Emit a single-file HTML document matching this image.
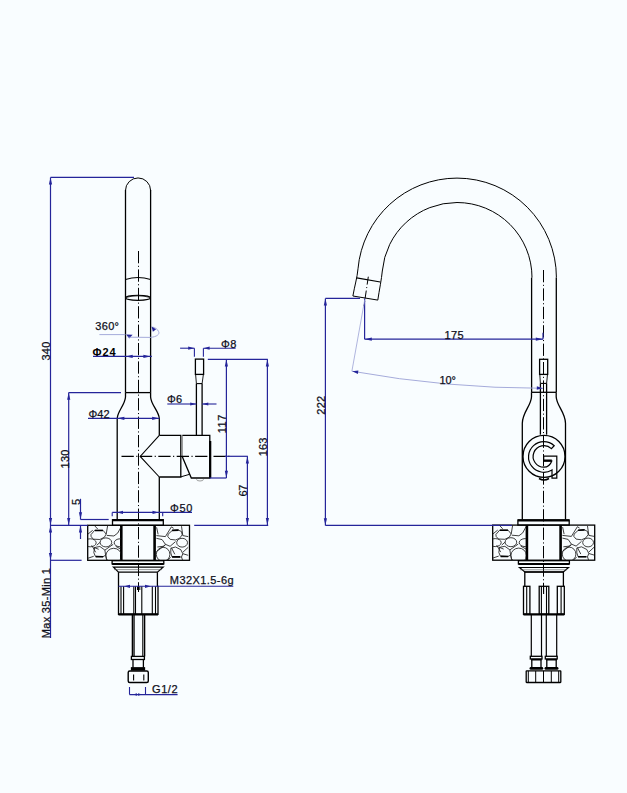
<!DOCTYPE html>
<html><head><meta charset="utf-8"><style>
html,body{margin:0;padding:0;background:#f9fdff;}
svg{display:block;}
text{font-family:"Liberation Sans",sans-serif;}
</style></head><body>
<svg width="627" height="793" viewBox="0 0 627 793">
<rect x="0" y="0" width="627" height="793" fill="#f9fdff"/>
<line x1="125.5" y1="189.9" x2="125.5" y2="392.6" stroke="#000" stroke-width="1.3" />
<line x1="150.6" y1="189.9" x2="150.6" y2="392.6" stroke="#000" stroke-width="1.3" />
<path d="M125.5,190.5 A12.55,12.55 0 0 1 150.6,190.5" stroke="#000" stroke-width="1.0" fill="none" />
<path d="M125.5,279.6 Q138,275.4 150.6,279.6" stroke="#000" stroke-width="1.1" fill="none" />
<ellipse cx="138" cy="297.8" rx="12.4" ry="2.6" stroke="#000" stroke-width="1.1" fill="none"/>
<path d="M126,297.4 Q138,294.2 150,297.4" stroke="#000" stroke-width="0.8" fill="none" />
<line x1="125.5" y1="392.6" x2="150.6" y2="392.6" stroke="#000" stroke-width="1.3" />
<path d="M125.5,392.6 L125.5,397 C125,405 117.5,411 117.2,418.5 L117.2,519.7" stroke="#000" stroke-width="1.3" fill="none" />
<path d="M150.6,392.6 L150.6,397 C151,405 158.8,411 159.3,418.5 L159.3,435.3" stroke="#000" stroke-width="1.3" fill="none" />
<line x1="159.3" y1="477" x2="159.3" y2="519.7" stroke="#000" stroke-width="1.3" />
<path d="M159.3,435.3 L180.8,435.3 L180.8,477 L159.3,477" stroke="#000" stroke-width="1.3" fill="none" />
<path d="M159.3,435.3 L140.2,456.4 L159.3,477" stroke="#000" stroke-width="1.1" fill="none" />
<path d="M182.3,435.3 L209.8,435.3 L209.8,478 L191.3,478 L182,456" stroke="#000" stroke-width="1.3" fill="none" />
<line x1="182.3" y1="436" x2="182.3" y2="456" stroke="#777" stroke-width="0.9" />
<line x1="181" y1="476.8" x2="189.6" y2="474.3" stroke="#000" stroke-width="1.0" />
<line x1="210.2" y1="441" x2="210.2" y2="478" stroke="#000" stroke-width="2.2" />
<path d="M196.5,479.2 A3.5,1.8 0 0 0 203.5,479.2" stroke="#888" stroke-width="0.8" fill="none" />
<rect x="195.4" y="359.1" width="8.20" height="15.30" stroke="#000" stroke-width="1.3" fill="none"/>
<path d="M195.6,374.4 L196.4,383.6 M203.4,374.4 L202.1,383.6" stroke="#000" stroke-width="0.9" fill="none" />
<line x1="196.4" y1="383.6" x2="202.1" y2="383.6" stroke="#000" stroke-width="1.1" />
<line x1="196.4" y1="383.6" x2="196.4" y2="435.3" stroke="#000" stroke-width="1.3" />
<line x1="202.1" y1="383.6" x2="202.1" y2="435.3" stroke="#000" stroke-width="1.3" />
<line x1="121.5" y1="456.4" x2="232" y2="456.4" stroke="#000" stroke-width="1.1" stroke-dasharray="12.3 2.5 1.1 2.5"/>
<line x1="138.5" y1="251" x2="138.5" y2="592" stroke="#000" stroke-width="1.0" stroke-dasharray="12.3 2.5 1.1 2.5"/>
<rect x="112.5" y="519.7" width="50.80" height="5.60" stroke="#000" stroke-width="1.3" fill="none"/>
<line x1="112.5" y1="520.1" x2="163.3" y2="520.1" stroke="#000" stroke-width="2.2" />
<rect x="87.7" y="525.3" width="101.80" height="35.00" stroke="#000" stroke-width="1.3" fill="none"/>
<line x1="121.3" y1="525.3" x2="121.3" y2="560.3" stroke="#000" stroke-width="2.6" />
<line x1="154.6" y1="525.3" x2="154.6" y2="560.3" stroke="#000" stroke-width="2.6" />
<rect x="112.1" y="560.7" width="51.70" height="3.20" stroke="#000" stroke-width="1.3" fill="none"/>
<line x1="112.1" y1="564" x2="163.8" y2="564" stroke="#000" stroke-width="2" />
<path d="M113.4,567.1 L163.2,567.1 L157.4,572.2 L118.5,572.2 Z" stroke="#000" stroke-width="1.2" fill="none" />
<line x1="114" y1="569.6" x2="162" y2="569.6" stroke="#555" stroke-width="0.6" />
<path d="M118.5,572.2 L118.5,614.3 L158,614.3 L158,586.3 L157.4,586.3 L157.4,572.2" stroke="#000" stroke-width="1.3" fill="none" />
<line x1="118.5" y1="614.3" x2="158" y2="614.3" stroke="#000" stroke-width="2.2" />
<line x1="121" y1="586.3" x2="121" y2="614.3" stroke="#000" stroke-width="1.1" />
<line x1="123.6" y1="586.3" x2="123.6" y2="614.3" stroke="#000" stroke-width="1.1" />
<line x1="133.8" y1="586.3" x2="133.8" y2="614.3" stroke="#000" stroke-width="1.1" />
<line x1="135.5" y1="586.3" x2="135.5" y2="614.3" stroke="#000" stroke-width="1.1" />
<line x1="141.8" y1="586.3" x2="141.8" y2="614.3" stroke="#000" stroke-width="1.1" />
<line x1="152.3" y1="586.3" x2="152.3" y2="614.3" stroke="#000" stroke-width="1.1" />
<line x1="155.5" y1="586.3" x2="155.5" y2="614.3" stroke="#000" stroke-width="1.1" />
<line x1="137.5" y1="586.3" x2="137.5" y2="590" stroke="#000" stroke-width="1" />
<line x1="139.8" y1="586.3" x2="139.8" y2="590" stroke="#000" stroke-width="1" />
<line x1="132.6" y1="614.3" x2="132.6" y2="656.4" stroke="#000" stroke-width="1.8" />
<line x1="134.2" y1="614.3" x2="134.2" y2="656.4" stroke="#000" stroke-width="1.0" />
<line x1="142.8" y1="614.3" x2="142.8" y2="656.4" stroke="#000" stroke-width="1.1" />
<line x1="144.6" y1="614.3" x2="144.6" y2="656.4" stroke="#000" stroke-width="1.4" />
<rect x="131.4" y="656.4" width="13.00" height="3.10" stroke="#000" stroke-width="1.3" fill="none"/>
<line x1="133" y1="659.5" x2="133" y2="667.8" stroke="#000" stroke-width="1.3" />
<line x1="143.4" y1="659.5" x2="143.4" y2="667.8" stroke="#000" stroke-width="1.3" />
<rect x="131.5" y="667.8" width="13.00" height="2.20" stroke="#000" stroke-width="1.3" fill="#000"/>
<rect x="128.2" y="671" width="20.1" height="11.5" rx="1.5" stroke="#000" stroke-width="1.4" fill="none"/>
<line x1="133.6" y1="674.5" x2="133.6" y2="680.5" stroke="#000" stroke-width="1.1" />
<line x1="143.8" y1="674.5" x2="143.8" y2="680.5" stroke="#000" stroke-width="1.1" />
<line x1="50.5" y1="177.4" x2="50.5" y2="638" stroke="#25259a" stroke-width="1.2" />
<line x1="50.5" y1="177.4" x2="134" y2="177.4" stroke="#25259a" stroke-width="1.2" />
<polygon points="50.50,177.60 52.10,184.60 48.90,184.60" fill="#25259a"/>
<polygon points="50.50,525.10 48.90,518.10 52.10,518.10" fill="#25259a"/>
<line x1="50.5" y1="525.3" x2="87.7" y2="525.3" stroke="#25259a" stroke-width="1.2" />
<polygon points="50.50,525.50 52.10,532.50 48.90,532.50" fill="#25259a"/>
<polygon points="50.50,560.10 48.90,553.10 52.10,553.10" fill="#25259a"/>
<line x1="50.5" y1="560.3" x2="81.6" y2="560.3" stroke="#25259a" stroke-width="1.2" />
<text x="0" y="0" transform="translate(50.4,360.6) rotate(-90)" font-size="11" fill="#10101c" stroke="#10101c" stroke-width="0.25" textLength="19.00" lengthAdjust="spacing" >340</text>
<text x="0" y="0" transform="translate(50.4,638.3) rotate(-90)" font-size="11" fill="#10101c" stroke="#10101c" stroke-width="0.25" textLength="70.30" lengthAdjust="spacing" >Max 35-Min 1</text>
<line x1="68.7" y1="392.6" x2="68.7" y2="525.3" stroke="#25259a" stroke-width="1.2" />
<line x1="68.7" y1="392.6" x2="121" y2="392.6" stroke="#25259a" stroke-width="1.2" />
<polygon points="68.70,392.80 70.30,399.80 67.10,399.80" fill="#25259a"/>
<polygon points="68.70,525.10 67.10,518.10 70.30,518.10" fill="#25259a"/>
<text x="0" y="0" transform="translate(68.9,468.5) rotate(-90)" font-size="11" fill="#10101c" stroke="#10101c" stroke-width="0.25" textLength="19.00" lengthAdjust="spacing" >130</text>
<line x1="80.5" y1="498.8" x2="80.5" y2="519.5" stroke="#25259a" stroke-width="1.2" />
<line x1="80.5" y1="519.5" x2="108.7" y2="519.5" stroke="#25259a" stroke-width="1.2" />
<polygon points="80.50,519.30 78.90,512.30 82.10,512.30" fill="#25259a"/>
<line x1="80.5" y1="525.5" x2="80.5" y2="539" stroke="#25259a" stroke-width="1.2" />
<polygon points="80.50,525.50 82.10,532.50 78.90,532.50" fill="#25259a"/>
<text x="0" y="0" transform="translate(80.3,505) rotate(-90)" font-size="11" fill="#10101c" stroke="#10101c" stroke-width="0.25" >5</text>
<line x1="99.4" y1="334.6" x2="125.5" y2="334.6" stroke="#9ca2d6" stroke-width="0.9" />
<polygon points="126.2,334.4 132.6,334.8 129.2,338.6" fill="#25259a"/>
<path d="M128,337.2 L150,337.4 C157,337 160,334 158.6,331.5 C157.5,329 155,327.5 152.5,327" stroke="#9ca2d6" stroke-width="0.9" fill="none" />
<polygon points="151.50,326.50 156.10,329.30 152.90,331.70" fill="#25259a"/>
<text x="95.2" y="330" font-size="11" fill="#10101c" stroke="#10101c" stroke-width="0.25" textLength="23.80" lengthAdjust="spacing" >360°</text>
<line x1="93" y1="356.4" x2="151.9" y2="356.4" stroke="#25259a" stroke-width="1.3" />
<polygon points="125.70,356.40 132.70,354.80 132.70,358.00" fill="#25259a"/>
<polygon points="150.40,356.40 143.40,358.00 143.40,354.80" fill="#25259a"/>
<text x="92.6" y="355.7" font-size="11" fill="#000" font-weight="bold" textLength="23.00" lengthAdjust="spacing" >Φ24</text>
<line x1="88" y1="418.3" x2="159.3" y2="418.3" stroke="#25259a" stroke-width="1.2" />
<polygon points="117.40,418.30 124.40,416.70 124.40,419.90" fill="#25259a"/>
<polygon points="159.10,418.30 152.10,419.90 152.10,416.70" fill="#25259a"/>
<text x="88.4" y="417.5" font-size="11" fill="#10101c" stroke="#10101c" stroke-width="0.25" textLength="21.30" lengthAdjust="spacing" >Φ42</text>
<line x1="194.4" y1="348.2" x2="194.4" y2="356.8" stroke="#25259a" stroke-width="1.1" />
<line x1="203.4" y1="348.2" x2="203.4" y2="356.8" stroke="#25259a" stroke-width="1.1" />
<line x1="180.1" y1="348.2" x2="194.4" y2="348.2" stroke="#25259a" stroke-width="1.1" />
<line x1="203.4" y1="348.2" x2="235.6" y2="348.2" stroke="#25259a" stroke-width="1.1" />
<polygon points="194.20,348.20 188.20,349.80 188.20,346.60" fill="#25259a"/>
<polygon points="203.60,348.20 209.60,346.60 209.60,349.80" fill="#25259a"/>
<text x="221" y="347.6" font-size="11" fill="#10101c" stroke="#10101c" stroke-width="0.25" textLength="15.40" lengthAdjust="spacing" >Φ8</text>
<line x1="167.3" y1="404" x2="196.4" y2="404" stroke="#25259a" stroke-width="1.1" />
<line x1="202.1" y1="404" x2="216.5" y2="404" stroke="#25259a" stroke-width="1.1" />
<polygon points="196.20,404.00 190.20,405.60 190.20,402.40" fill="#25259a"/>
<polygon points="202.30,404.00 208.30,402.40 208.30,405.60" fill="#25259a"/>
<text x="167.1" y="403.3" font-size="11" fill="#10101c" stroke="#10101c" stroke-width="0.25" textLength="15.10" lengthAdjust="spacing" >Φ6</text>
<line x1="207.8" y1="359.3" x2="267.8" y2="359.3" stroke="#25259a" stroke-width="1.2" />
<line x1="226.4" y1="359.3" x2="226.4" y2="478" stroke="#25259a" stroke-width="1.2" />
<line x1="209.5" y1="478" x2="226.4" y2="478" stroke="#25259a" stroke-width="1.2" />
<polygon points="226.40,359.50 228.00,366.50 224.80,366.50" fill="#25259a"/>
<polygon points="226.40,477.80 224.80,470.80 228.00,470.80" fill="#25259a"/>
<text x="0" y="0" transform="translate(226.2,433.3) rotate(-90)" font-size="11" fill="#10101c" stroke="#10101c" stroke-width="0.25" textLength="18.60" lengthAdjust="spacing" >117</text>
<line x1="267.4" y1="359.3" x2="267.4" y2="525.3" stroke="#25259a" stroke-width="1.2" />
<polygon points="267.40,359.50 269.00,366.50 265.80,366.50" fill="#25259a"/>
<polygon points="267.40,525.10 265.80,518.10 269.00,518.10" fill="#25259a"/>
<text x="0" y="0" transform="translate(267.1,456.3) rotate(-90)" font-size="11" fill="#10101c" stroke="#10101c" stroke-width="0.25" textLength="18.70" lengthAdjust="spacing" >163</text>
<line x1="224.9" y1="456.3" x2="247.8" y2="456.3" stroke="#25259a" stroke-width="1.2" />
<line x1="247.4" y1="456.3" x2="247.4" y2="525.3" stroke="#25259a" stroke-width="1.2" />
<polygon points="247.40,456.50 249.00,463.50 245.80,463.50" fill="#25259a"/>
<polygon points="247.40,525.10 245.80,518.10 249.00,518.10" fill="#25259a"/>
<text x="0" y="0" transform="translate(247.1,496.5) rotate(-90)" font-size="11" fill="#10101c" stroke="#10101c" stroke-width="0.25" textLength="11.80" lengthAdjust="spacing" >67</text>
<line x1="194.2" y1="525.3" x2="268.2" y2="525.3" stroke="#25259a" stroke-width="1.2" />
<line x1="112.2" y1="512.4" x2="192" y2="512.4" stroke="#25259a" stroke-width="1.1" />
<line x1="112.2" y1="512.4" x2="112.2" y2="516.3" stroke="#25259a" stroke-width="1.1" />
<line x1="162.7" y1="512.4" x2="162.7" y2="516.3" stroke="#25259a" stroke-width="1.1" />
<polygon points="117.00,512.40 123.00,510.80 123.00,514.00" fill="#25259a"/>
<polygon points="158.50,512.40 152.50,514.00 152.50,510.80" fill="#25259a"/>
<text x="170.1" y="511.6" font-size="11" fill="#10101c" stroke="#10101c" stroke-width="0.25" textLength="22.20" lengthAdjust="spacing" >Φ50</text>
<line x1="118.5" y1="586.3" x2="233.3" y2="586.3" stroke="#25259a" stroke-width="1.1" />
<polygon points="124.00,586.30 130.00,584.70 130.00,587.90" fill="#25259a"/>
<polygon points="151.00,586.30 145.00,587.90 145.00,584.70" fill="#25259a"/>
<text x="169.8" y="583.8" font-size="11" fill="#10101c" stroke="#10101c" stroke-width="0.25" textLength="63.80" lengthAdjust="spacing" >M32X1.5-6g</text>
<line x1="129.5" y1="687" x2="129.5" y2="694.6" stroke="#25259a" stroke-width="1.1" />
<line x1="145.5" y1="687" x2="145.5" y2="694.6" stroke="#25259a" stroke-width="1.1" />
<line x1="129.5" y1="694.6" x2="177.6" y2="694.6" stroke="#25259a" stroke-width="1.1" />
<polygon points="133.00,694.60 137.00,693.35 137.00,695.85" fill="#25259a"/>
<polygon points="142.00,694.60 138.00,695.85 138.00,693.35" fill="#25259a"/>
<text x="152.1" y="692.7" font-size="11" fill="#10101c" stroke="#10101c" stroke-width="0.25" textLength="25.40" lengthAdjust="spacing" >G1/2</text>
<path d="M556.4,277.5 A99.4,99.4 0 0 0 457,178.1 A99.4,99.4 0 0 0 358,268.8 C357.2,277.8 354.6,286 352.9,296 L377.8,300.1 C379.3,290 381.6,279 382.3,271 A75,75 0 0 1 457,202.5 A75,75 0 0 1 532,277.5" stroke="#000" stroke-width="1.0" fill="none" />
<line x1="556.3" y1="277.5" x2="556.3" y2="392.3" stroke="#000" stroke-width="1.3" />
<line x1="531.6" y1="277.5" x2="531.6" y2="392.3" stroke="#000" stroke-width="1.3" />
<line x1="356.7" y1="277.8" x2="380.3" y2="282" stroke="#000" stroke-width="1.2" />
<path d="M368.3,276.7 L364,306" stroke="#000" stroke-width="1.0" fill="none" stroke-dasharray="8 2.5 1 2.5"/>
<line x1="543.5" y1="270" x2="543.5" y2="592" stroke="#000" stroke-width="1.0" stroke-dasharray="12.3 2.5 1.1 2.5"/>
<rect x="539.6" y="359.3" width="8.10" height="15.10" stroke="#000" stroke-width="1.3" fill="none"/>
<path d="M539.8,374.4 L540.4,383.4 M547.5,374.4 L546.6,383.4" stroke="#000" stroke-width="0.9" fill="none" />
<line x1="540.4" y1="383.4" x2="546.6" y2="383.4" stroke="#000" stroke-width="1.1" />
<line x1="540.4" y1="383.4" x2="540.4" y2="434.7" stroke="#000" stroke-width="1.3" />
<line x1="546.6" y1="383.4" x2="546.6" y2="434.7" stroke="#000" stroke-width="1.3" />
<line x1="531.5" y1="392.3" x2="556.2" y2="392.3" stroke="#000" stroke-width="1.3" />
<path d="M531.5,392.3 L531.5,397 C531,406 522.5,412 522.3,423.3 L522.3,519.5" stroke="#000" stroke-width="1.3" fill="none" />
<path d="M556.2,392.3 L556.2,397 C556.7,406 565.3,412 565.5,423.3 L565.5,519.5" stroke="#000" stroke-width="1.3" fill="none" />
<circle cx="544" cy="456.4" r="21" stroke="#000" stroke-width="1.3" fill="none"/>
<path d="M554.2,445.7 A15.3,15.3 0 1 0 552,469.9 L552,478.2 L556.8,478.2 L556.8,456.2 L543.7,456.2 L543.7,461 L551.8,461 Q549.5,467.2 544,467.2 A10.8,10.8 0 1 1 551.4,448.6 Z" stroke="#000" stroke-width="1.2" fill="none" />
<line x1="543.7" y1="460.6" x2="551.8" y2="460.6" stroke="#000" stroke-width="2.2" />
<path d="M539,478.5 Q544,481.5 549,478.5" stroke="#000" stroke-width="1.6" fill="none" />
<rect x="517.9" y="520" width="51.30" height="5.10" stroke="#000" stroke-width="1.3" fill="none"/>
<line x1="517.9" y1="520.3" x2="569.2" y2="520.3" stroke="#000" stroke-width="2.2" />
<rect x="492.7" y="525.1" width="102.00" height="35.10" stroke="#000" stroke-width="1.3" fill="none"/>
<line x1="526.9" y1="525.1" x2="526.9" y2="560.2" stroke="#000" stroke-width="2.6" />
<line x1="560.6" y1="525.1" x2="560.6" y2="560.2" stroke="#000" stroke-width="2.6" />
<rect x="518.4" y="560.7" width="51.00" height="3.20" stroke="#000" stroke-width="1.3" fill="none"/>
<line x1="518.4" y1="564" x2="569.4" y2="564" stroke="#000" stroke-width="2" />
<path d="M519.5,567.5 L568.5,567.5 L563.4,572 L524.8,572 Z" stroke="#000" stroke-width="1.2" fill="none" />
<line x1="520" y1="569.8" x2="567" y2="569.8" stroke="#555" stroke-width="0.6" />
<path d="M524.8,586.3 L524.8,572 L563.4,572 L563.4,586.3" stroke="#000" stroke-width="1.3" fill="none" />
<rect x="523.5" y="586.3" width="6.40" height="28.00" stroke="#000" stroke-width="1.3" fill="none"/>
<line x1="526.7" y1="586.3" x2="526.7" y2="614.3" stroke="#000" stroke-width="1.1" />
<rect x="539.2" y="586.3" width="9.60" height="28.00" stroke="#000" stroke-width="1.3" fill="none"/>
<line x1="541.4" y1="586.3" x2="541.4" y2="614.3" stroke="#000" stroke-width="1.1" />
<line x1="546.5" y1="586.3" x2="546.5" y2="614.3" stroke="#000" stroke-width="1.1" />
<rect x="557.3" y="586.3" width="7.00" height="28.00" stroke="#000" stroke-width="1.3" fill="none"/>
<line x1="561.1" y1="586.3" x2="561.1" y2="614.3" stroke="#000" stroke-width="1.1" />
<line x1="523.5" y1="614.3" x2="564.3" y2="614.3" stroke="#000" stroke-width="2.2" />
<line x1="543.6" y1="586.3" x2="543.6" y2="594" stroke="#000" stroke-width="1.1" />
<line x1="531.3" y1="614.3" x2="531.3" y2="656.3" stroke="#000" stroke-width="1.2" />
<line x1="541.5" y1="614.3" x2="541.5" y2="656.3" stroke="#000" stroke-width="1.2" />
<rect x="530.3" y="656.3" width="11.70" height="2.70" stroke="#000" stroke-width="1.3" fill="none"/>
<line x1="531.8" y1="659" x2="531.8" y2="667" stroke="#000" stroke-width="1.3" />
<line x1="541.0" y1="659" x2="541.0" y2="667" stroke="#000" stroke-width="1.3" />
<line x1="531.3" y1="659.6" x2="541.5" y2="659.6" stroke="#000" stroke-width="1.8" />
<rect x="529.5" y="667" width="13.80" height="2.8" rx="1.4" fill="#000"/>
<line x1="546.3" y1="614.3" x2="546.3" y2="656.3" stroke="#000" stroke-width="1.2" />
<line x1="556.7" y1="614.3" x2="556.7" y2="656.3" stroke="#000" stroke-width="1.2" />
<rect x="545.3" y="656.3" width="11.90" height="2.70" stroke="#000" stroke-width="1.3" fill="none"/>
<line x1="546.8" y1="659" x2="546.8" y2="667" stroke="#000" stroke-width="1.3" />
<line x1="556.2" y1="659" x2="556.2" y2="667" stroke="#000" stroke-width="1.3" />
<line x1="546.3" y1="659.6" x2="556.7" y2="659.6" stroke="#000" stroke-width="1.8" />
<rect x="544.5" y="667" width="14.00" height="2.8" rx="1.4" fill="#000"/>
<rect x="526.2" y="670.8" width="34.6" height="11.7" rx="0.5" stroke="#000" stroke-width="1.3" fill="none"/>
<line x1="535.7" y1="671" x2="535.7" y2="682" stroke="#000" stroke-width="1.0" />
<line x1="543.5" y1="671" x2="543.5" y2="682" stroke="#000" stroke-width="1.0" />
<line x1="551.3" y1="671" x2="551.3" y2="682" stroke="#000" stroke-width="1.0" />
<line x1="528.3" y1="671" x2="528.3" y2="682" stroke="#000" stroke-width="1.0" />
<line x1="558.7" y1="671" x2="558.7" y2="682" stroke="#000" stroke-width="1.0" />
<line x1="325.4" y1="298.4" x2="325.4" y2="525.4" stroke="#25259a" stroke-width="1.2" />
<line x1="325.4" y1="298.4" x2="360" y2="298.4" stroke="#25259a" stroke-width="1.2" />
<line x1="325.4" y1="525.4" x2="511.8" y2="525.4" stroke="#25259a" stroke-width="1.2" />
<polygon points="325.40,298.60 327.00,305.60 323.80,305.60" fill="#25259a"/>
<polygon points="325.40,525.20 323.80,518.20 327.00,518.20" fill="#25259a"/>
<text x="0" y="0" transform="translate(325.4,414.7) rotate(-90)" font-size="11" fill="#10101c" stroke="#10101c" stroke-width="0.25" textLength="18.90" lengthAdjust="spacing" >222</text>
<line x1="364.6" y1="298.5" x2="364.6" y2="339.3" stroke="#25259a" stroke-width="1.2" />
<line x1="364.6" y1="339.2" x2="543" y2="339.2" stroke="#25259a" stroke-width="1.2" />
<line x1="543" y1="332.8" x2="543" y2="339.2" stroke="#25259a" stroke-width="1.2" />
<polygon points="364.80,339.20 371.80,337.60 371.80,340.80" fill="#25259a"/>
<polygon points="542.80,339.20 535.80,340.80 535.80,337.60" fill="#25259a"/>
<text x="444.5" y="338.9" font-size="11" fill="#10101c" stroke="#10101c" stroke-width="0.25" textLength="19.00" lengthAdjust="spacing" >175</text>
<line x1="364.8" y1="299.4" x2="351.9" y2="371.2" stroke="#9ca2d6" stroke-width="0.8" />
<path d="M351.9,371.2 A1079,1079 0 0 0 543,388.3" stroke="#9ca2d6" stroke-width="0.9" fill="none" />
<polygon points="352.20,371.30 358.39,370.46 357.87,373.92" fill="#25259a"/>
<polygon points="542.80,388.30 536.75,389.87 536.86,386.37" fill="#25259a"/>
<text x="439.4" y="384.1" font-size="11" fill="#10101c" stroke="#10101c" stroke-width="0.25" textLength="16.60" lengthAdjust="spacing" >10°</text>
<defs>
<clipPath id="cl"><rect x="0" y="0" width="33.4" height="35"/></clipPath>
<clipPath id="cr"><rect x="1.3" y="0" width="33.6" height="35"/></clipPath>
<g id="texL" clip-path="url(#cl)" stroke="#1e1e1e" stroke-width="0.85" fill="none">
<path d="M3.2,9.4 L7,5 L15.3,5 L18.5,8.8 L16.6,12 L12.2,14.2 L5.7,13.9 L3.5,11.4 Z"/>
<ellipse cx="18.2" cy="17.1" rx="5.8" ry="4.5"/>
<path d="M7,22.2 L12.2,21.2 L17.2,24.8 L17.9,29.9 L15.3,31.4 L7.7,31.1 L6.1,27.3 Z"/>
<ellipse cx="26" cy="30.5" rx="7.8" ry="7.5"/>
<path d="M19.1,10.1 L26.2,10.7 L30,7.8 L33.4,1.5"/>
<ellipse cx="32.5" cy="17.5" rx="6" ry="4"/>
<ellipse cx="2.5" cy="17.5" rx="6" ry="4"/>
<path d="M7.2,5.2 L15.2,5.2 M8,31.3 L15.5,31.4" stroke-width="1.6" stroke="#000"/>
<path d="M7,0.5 L10,3.7 M5,5 L0,9 M18.5,8.8 L20,0 M17.2,24.8 L25.5,19 M12.4,17 L9,20 M4,20 L8,27 M0,33 L6,31 M6,22 L11,24 M17.9,29.9 L19,35 M28,21 L33.4,24"/>
</g>
<g id="texR" clip-path="url(#cr)" stroke="#1e1e1e" stroke-width="0.85" fill="none">
<path d="M13.5,9 L17.5,5.3 L23.5,4.6 L26.9,6.3 L27.6,9.6 L24.9,13 L20.9,14.7 L15.5,14 L13.2,11.3 Z"/>
<ellipse cx="27.5" cy="17.4" rx="5.4" ry="4.4"/>
<ellipse cx="8.5" cy="29" rx="6.8" ry="7"/>
<path d="M16.2,23 L20.9,21.7 L26.2,24.4 L28.2,28.4 L26.9,31.7 L17.5,31.7 L16.2,27.7 Z"/>
<path d="M1.8,13 L7.5,14.3 L10.8,19 L8.8,21 L2.8,21.7"/>
<path d="M1.8,10.3 L10.8,11.3 L16.8,1.6 M26.9,0.9 L28.2,10.3 L33.6,11.3 M28.2,27 L33.6,22 M1.8,26.4 L10.8,19.7 M15.5,21 L20.9,16.3 M16.8,22.4 L20.2,29 M10.8,19 L15.5,21 M28.2,28.4 L33.6,30 M26.9,31.7 L28,35 M16,32 L13,35 M2,2 L3.5,9 M16.8,1.6 L19,3"/>
<path d="M17.5,5.1 L24,4.8 M17.5,31.6 L25.5,31.6" stroke-width="1.6" stroke="#000"/>
</g>
</defs>
<use href="#texL" x="87.7" y="525.3"/>
<use href="#texR" x="154.6" y="525.3"/>
<use href="#texL" x="492.7" y="525.1"/>
<use href="#texR" x="560.6" y="525.1"/>
</svg></body></html>
